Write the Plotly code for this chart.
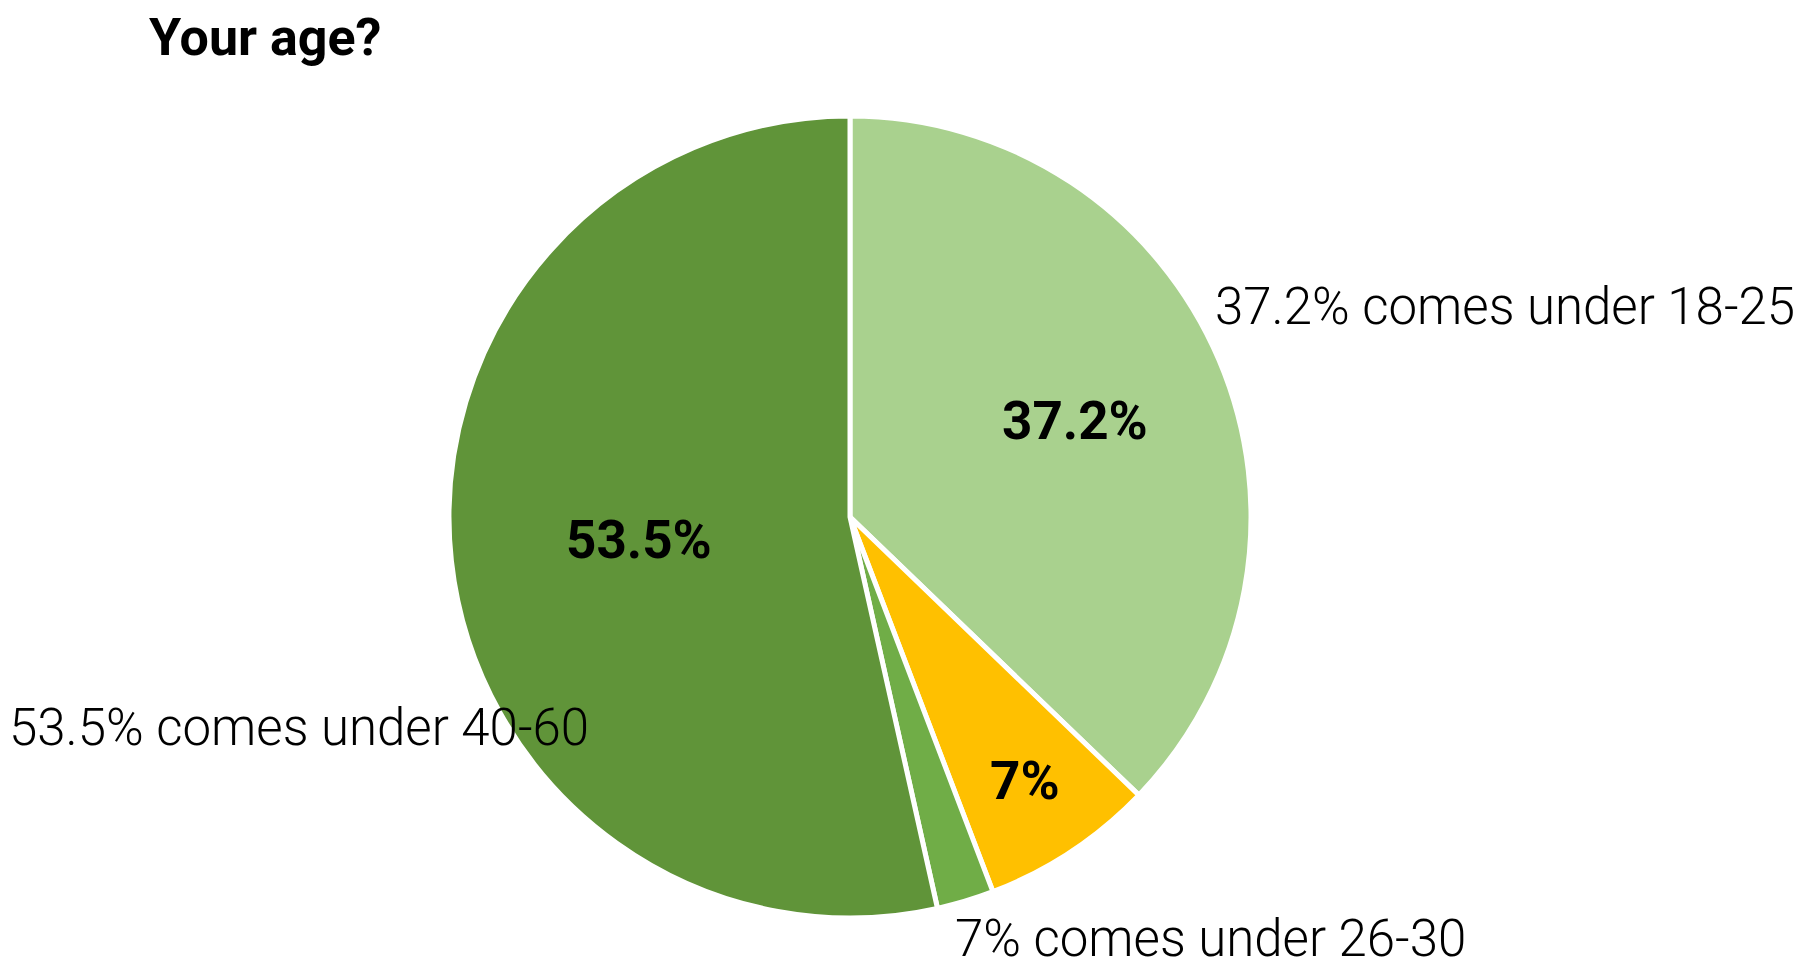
import math
import plotly.graph_objects as go

W, H = 1818, 968

age_groups = ["18-25", "26-30", "31-40", "40-60"]
shares = [37.2, 7.0, 2.3, 53.5]
inside_labels = ["37.2%", "7%", "", "53.5%"]
label_radius_frac = [0.61, 0.79, 0.0, 0.53]
slice_colors = ["#A9D18E", "#FFC000", "#70AD47", "#609439"]
title_text = "Your age?"
callouts = [
    ("37.2% comes under 18-25", 1206, 298),
    ("7% comes under 26-30", 946, 930),
    ("53.5% comes under 40-60", 0, 719),
]

cx, cy, r = 842, 509, 401

fig = go.Figure(go.Pie(
    labels=age_groups,
    values=shares,
    sort=False,
    direction="clockwise",
    rotation=0,
    textinfo="none",
    marker=dict(colors=slice_colors, line=dict(color="white", width=5)),
    showlegend=False,
    hoverinfo="label+value",
    domain=dict(x=[(cx - r) / W, (cx + r) / W], y=[(H - cy - r) / H, (H - cy + r) / H]),
))

annotations = [dict(
    text=title_text, x=139 / W, y=(H - 30) / H, xref="paper", yref="paper",
    xanchor="left", yanchor="middle", showarrow=False,
    font=dict(family="Roboto", size=52, color="black", weight="bold"),
)]

total = sum(shares)
cum = 0.0
for val, lab, frac in zip(shares, inside_labels, label_radius_frac):
    mid = (cum + val / 2) / total * 2 * math.pi
    cum += val
    if not lab:
        continue
    px = cx + frac * r * math.sin(mid)
    py = cy - frac * r * math.cos(mid)
    annotations.append(dict(
        text=lab, x=px / W, y=(H - py) / H, xref="paper", yref="paper",
        xanchor="center", yanchor="middle", showarrow=False,
        font=dict(family="Roboto", size=53, color="black", weight="bold"),
    ))

for txt, lx, ly in callouts:
    annotations.append(dict(
        text=txt, x=lx / W, y=(H - ly) / H,
        xref="paper", yref="paper",
        xanchor="left", yanchor="middle", showarrow=False, borderpad=0,
        font=dict(family="Roboto", size=51, color="black", weight=300),
    ))

fig.update_layout(
    width=W, height=H,
    margin=dict(l=0, r=0, t=0, b=0),
    paper_bgcolor="white", plot_bgcolor="white",
    annotations=annotations,
)

fig.write_html("out.html")
